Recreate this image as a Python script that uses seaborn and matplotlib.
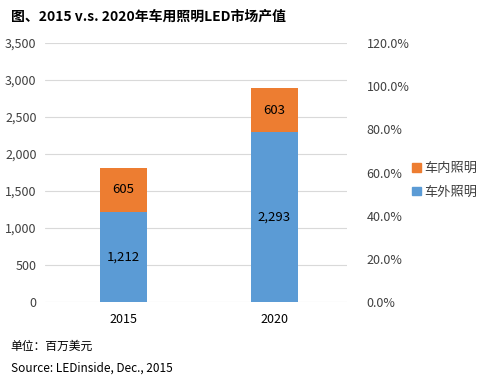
import matplotlib
matplotlib.use("Agg")
import matplotlib.pyplot as plt
import seaborn as sns
import pandas as pd
from matplotlib.ticker import FuncFormatter, PercentFormatter
from matplotlib.patches import Patch

years = ["2015", "2020"]
exterior = [1212, 2293]   # 车外照明
interior = [605, 603]     # 车内照明
left_ticks = [0, 500, 1000, 1500, 2000, 2500, 3000, 3500]
right_ticks = [0.0, 0.2, 0.4, 0.6, 0.8, 1.0, 1.2]

sns.set_theme(style="white")
plt.rcParams['font.family'] = ['Noto Sans CJK SC', 'DejaVu Sans']

blue = "#5B9BD5"
orange = "#ED7D31"
txt = "#404040"

df = pd.DataFrame({"year": years, "ext": exterior, "int": interior})
df["total"] = df["ext"] + df["int"]

fig = plt.figure(figsize=(4.82, 3.79), dpi=100)
ax = fig.add_axes([0.093, 0.203, 0.627, 0.6835])

sns.barplot(data=df, x="year", y="total", color=orange, width=0.31,
            saturation=1, ax=ax, zorder=3, linewidth=0)
sns.barplot(data=df, x="year", y="ext", color=blue, width=0.31,
            saturation=1, ax=ax, zorder=4, linewidth=0)

ax.set_ylim(0, 3500)
ax.set_xlim(-0.52, 1.48)
ax.set_yticks(left_ticks)
ax.yaxis.set_major_formatter(FuncFormatter(lambda v, p: f"{int(v):,}"))
ax.grid(axis="y", color="#D9D9D9", linewidth=0.8, zorder=0)
ax.set_axisbelow(True)
for s in ax.spines.values():
    s.set_visible(False)
ax.tick_params(axis="both", length=0, labelsize=9, colors=txt, pad=6)
ax.tick_params(axis="x", labelcolor="black", pad=8)
ax.set_xlabel("")
ax.set_ylabel("")

for i in range(len(years)):
    e = exterior[i]
    n = interior[i]
    ax.text(i, e / 2, f"{e:,}", ha="center", va="center", fontsize=9.5, color="black", zorder=5)
    ax.text(i, e + n / 2, f"{n:,}", ha="center", va="center", fontsize=9.5, color="black", zorder=5)

ax2 = ax.twinx()
ax2.set_ylim(0, 1.2)
ax2.set_yticks(right_ticks)
ax2.yaxis.set_major_formatter(PercentFormatter(1.0, decimals=1))
for s in ax2.spines.values():
    s.set_visible(False)
ax2.tick_params(axis="y", length=0, labelsize=9, colors=txt, pad=14)
ax2.grid(False)

handles = [Patch(color=orange, label="车内照明"), Patch(color=blue, label="车外照明")]
fig.legend(handles=handles, loc="center left", bbox_to_anchor=(0.855, 0.524),
           frameon=False, fontsize=9.5, handlelength=0.65, handleheight=0.65,
           handletextpad=0.3, labelspacing=0.8, labelcolor=txt,
           borderaxespad=0, borderpad=0)

fig.text(0.022, 0.955, "图、2015 v.s. 2020年车用照明LED市场产值", fontsize=10,
         fontweight="bold", color="black", va="center", ha="left")
fig.text(0.022, 0.085, "单位：百万美元", fontsize=8.5, color="black", va="center")
fig.text(0.022, 0.028, "Source: LEDinside, Dec., 2015", fontsize=8.5, color="black", va="center")

fig.savefig("out.png", dpi=100)
